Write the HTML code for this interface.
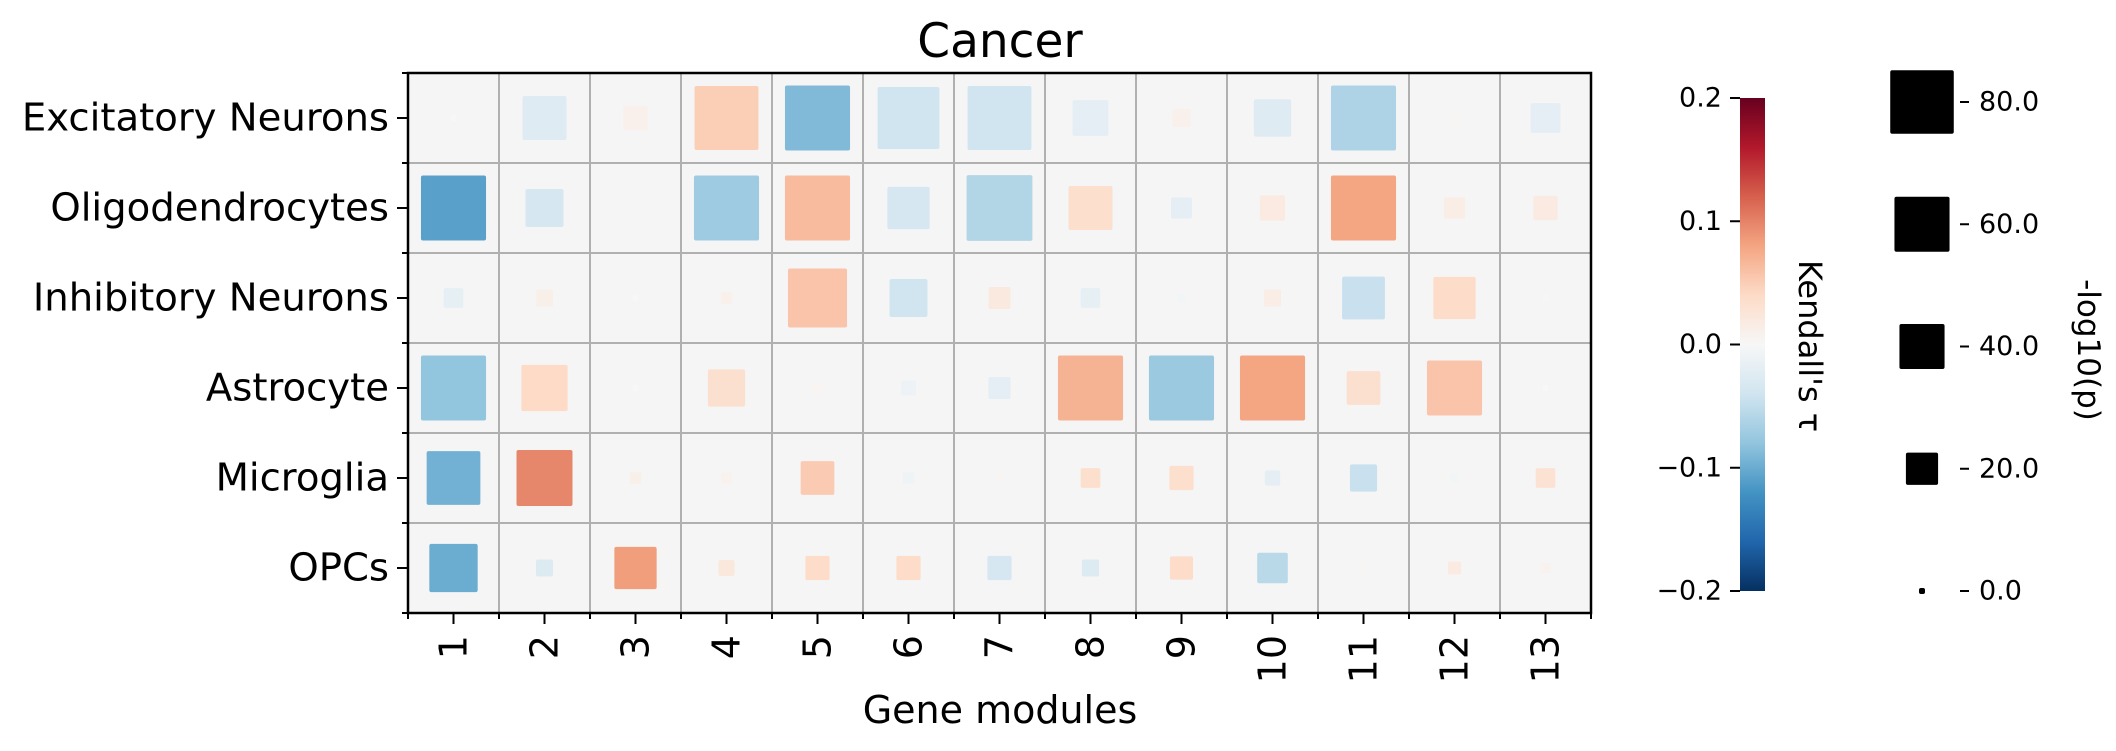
<!DOCTYPE html>
<html><head><meta charset="utf-8"><style>
html,body{margin:0;padding:0;background:#fff;}
svg{display:block;font-family:"DejaVu Sans","Liberation Sans",sans-serif;}
</style></head><body>
<svg id="chart" width="2116" height="751" viewBox="0 0 2116 751" xmlns="http://www.w3.org/2000/svg">
<defs>
<linearGradient id="cbar" x1="0" y1="1" x2="0" y2="0">
<stop offset="0" stop-color="#053061"/><stop offset="0.1" stop-color="#2166ac"/><stop offset="0.2" stop-color="#4393c3"/><stop offset="0.3" stop-color="#92c5de"/><stop offset="0.4" stop-color="#d1e5f0"/><stop offset="0.5" stop-color="#f7f7f7"/><stop offset="0.6" stop-color="#fddbc7"/><stop offset="0.7" stop-color="#f4a582"/><stop offset="0.8" stop-color="#d6604d"/><stop offset="0.9" stop-color="#b2182b"/><stop offset="1" stop-color="#67001f"/>
</linearGradient>
</defs>
<text x="1000" y="57" font-size="47" text-anchor="middle">Cancer</text>
<g id="plot"></g>
<text x="1000" y="723" font-size="38" text-anchor="middle">Gene modules</text>
<g id="cb"></g>
<g id="lg"></g>
</svg>
<script>
const rowLabels = ["Excitatory Neurons","Oligodendrocytes","Inhibitory Neurons","Astrocyte","Microglia","OPCs"];
const moduleLabels = ["1","2","3","4","5","6","7","8","9","10","11","12","13"];
const tauExcitatory = [0, -0.026, 0.01, 0.05, -0.089, -0.04, -0.04, -0.02, 0.01, -0.026, -0.062, 0.003, -0.02];
const logpExcitatory = [0, 38, 11, 81, 84, 76, 81, 25, 6, 27, 84, 3, 17];
const tauOligo = [-0.109, -0.035, -0.003, -0.072, 0.064, -0.035, -0.059, 0.035, -0.02, 0.018, 0.08, 0.015, 0.018];
const logpOligo = [84, 28, 0, 84, 84, 35, 86, 38, 8, 12, 84, 8, 11];
const tauInhibitory = [-0.018, 0.012, 0, 0.01, 0.057, -0.04, 0.02, -0.018, -0.005, 0.015, -0.045, 0.038, -0.002];
const logpInhibitory = [7, 5, 0, 2, 69, 28, 9, 7, 1, 5, 36, 35, 0.3];
const tauAstro = [-0.08, 0.04, 0, 0.033, 0.005, -0.012, -0.02, 0.07, -0.075, 0.08, 0.033, 0.057, 0];
const logpAstro = [84, 42, 0, 27, 2, 3.8, 9, 84, 84, 84, 22, 60, 0];
const tauMicroglia = [-0.096, 0.098, 0.012, 0.008, 0.052, -0.01, 0.005, 0.035, 0.035, -0.02, -0.045, -0.005, 0.03];
const logpMicroglia = [57, 62, 2, 1.7, 22, 2, 0.3, 7, 11, 4, 14, 1.3, 7];
const tauOPC = [-0.1, -0.028, 0.084, 0.022, 0.038, 0.038, -0.035, -0.028, 0.038, -0.055, 0.003, 0.018, 0.008];
const logpOPC = [46, 5, 35, 4.4, 11, 11, 11, 5, 10, 18, 0.6, 2.7, 1.3];
const colorbarTicks = [0.2, 0.1, 0.0, -0.1, -0.2];
const colorbarTickLabels = ["0.2","0.1","0.0","\u22120.1","\u22120.2"];
const legendValues = [80, 60, 40, 20, 0];
const legendLabels = ["80.0","60.0","40.0","20.0","0.0"];

const tauRows = [tauExcitatory, tauOligo, tauInhibitory, tauAstro, tauMicroglia, tauOPC];
const logpRows = [logpExcitatory, logpOligo, logpInhibitory, logpAstro, logpMicroglia, logpOPC];

const NS = "http://www.w3.org/2000/svg";
const L = 408, T = 73, CW = 91, RH = 90;
const R = L + CW * moduleLabels.length, B = T + RH * rowLabels.length;
const xCenter = j => L + CW * (j + 0.5);
const yCenter = i => T + RH * (i + 0.5);
const side = v => Math.sqrt(36 + 50 * v);
const stops = ["#053061","#2166ac","#4393c3","#92c5de","#d1e5f0","#f7f7f7","#fddbc7","#f4a582","#d6604d","#b2182b","#67001f"];
function hex(h){return [1,3,5].map(k=>parseInt(h.substr(k,2),16));}
function color(t){
  let u = Math.max(0, Math.min(1, (t + 0.2) / 0.4)) * 10;
  let k = Math.min(9, Math.floor(u)), f = u - k;
  const a = hex(stops[k]), b = hex(stops[k+1]);
  return "rgb(" + a.map((c,n)=>Math.round(c + (b[n]-c)*f)).join(",") + ")";
}
function mk(tag, attrs, parent){
  const e = document.createElementNS(NS, tag);
  for (const k in attrs) e.setAttribute(k, attrs[k]);
  parent.appendChild(e);
  return e;
}
const plot = document.getElementById("plot");
const bg = mk("rect", {x:L, y:T, width:R-L, height:B-T, fill:"#f5f5f5"}, plot);


for (let j = 1; j < moduleLabels.length; j++) {
  const g = mk("line", {x1:L+CW*j, x2:L+CW*j, y1:T, y2:B, stroke:"#b0b0b0", "stroke-width":2}, plot);
  
  
}
for (let i = 1; i < rowLabels.length; i++) {
  const g = mk("line", {x1:L, x2:R, y1:T+RH*i, y2:T+RH*i, stroke:"#b0b0b0", "stroke-width":2}, plot);
  
  
}
for (let i = 0; i < rowLabels.length; i++) {
  for (let j = 0; j < moduleLabels.length; j++) {
    const s = side(logpRows[i][j]);
    const r = mk("rect", {x:xCenter(j)-s/2, y:yCenter(i)-s/2, width:s, height:s, rx:2, fill:color(tauRows[i][j])}, plot);
    
    
  }
}
const sp = mk("rect", {x:L, y:T, width:R-L, height:B-T, fill:"none", stroke:"#000", "stroke-width":2.5}, plot);


for (let i = 0; i <= rowLabels.length; i++) {
  const tk = mk("line", {x1:L-6, x2:L, y1:T+RH*i, y2:T+RH*i, stroke:"#000", "stroke-width":2}, plot);
  
  
}
rowLabels.forEach((lab, i) => {
  const tk = mk("line", {x1:L-11, x2:L, y1:yCenter(i), y2:yCenter(i), stroke:"#000", "stroke-width":2}, plot);
  
  
  const t = mk("text", {x:L-19, y:yCenter(i), "font-size":38.6, "text-anchor":"end", "dominant-baseline":"central"}, plot);
  t.textContent = lab;
  
  
});
for (let j = 0; j <= moduleLabels.length; j++) {
  const tk = mk("line", {x1:L+CW*j, x2:L+CW*j, y1:B, y2:B+6, stroke:"#000", "stroke-width":2}, plot);
  
  
}
moduleLabels.forEach((lab, j) => {
  const tk = mk("line", {x1:xCenter(j), x2:xCenter(j), y1:B, y2:B+11, stroke:"#000", "stroke-width":2}, plot);
  
  
  const t = mk("text", {x:0, y:0, "font-size":38, "text-anchor":"end", "dominant-baseline":"central", transform:"translate(" + xCenter(j) + "," + (B+22) + ") rotate(-90)"}, plot);
  t.textContent = lab;
  
  
});
// colorbar
const cb = document.getElementById("cb");
const CBX = 1740, CBW = 25, CBT = 98, CBB = 591;
const cbY = v => CBB - (v + 0.2) / 0.4 * (CBB - CBT);
const cbr = mk("rect", {x:CBX, y:CBT, width:CBW, height:CBB-CBT, fill:"url(#cbar)"}, cb);


colorbarTicks.forEach((v, k) => {
  const tk = mk("line", {x1:CBX-10, x2:CBX, y1:cbY(v), y2:cbY(v), stroke:"#000", "stroke-width":2}, cb);
  
  
  const t = mk("text", {x:CBX-18, y:cbY(v), "font-size":27, "text-anchor":"end", "dominant-baseline":"central"}, cb);
  t.textContent = colorbarTickLabels[k];
  
  
});
const cbt = mk("text", {x:0, y:0, "font-size":32, "text-anchor":"middle", "dominant-baseline":"central", transform:"translate(1810,346) rotate(90)"}, cb);
cbt.textContent = "Kendall's \u03c4";


// size legend
const lg = document.getElementById("lg");
const lgY = v => 591 - v / 80 * (591 - 102);
legendValues.forEach((v, k) => {
  const s = side(v);
  const r = mk("rect", {x:1922-s/2, y:lgY(v)-s/2, width:s, height:s, rx:2, fill:"#000"}, lg);
  
  
  const tk = mk("line", {x1:1960, x2:1969, y1:lgY(v), y2:lgY(v), stroke:"#000", "stroke-width":2}, lg);
  
  
  const t = mk("text", {x:1979, y:lgY(v), "font-size":27, "dominant-baseline":"central"}, lg);
  t.textContent = legendLabels[k];
  
  
});
const lgt = mk("text", {x:0, y:0, "font-size":31, "text-anchor":"middle", "dominant-baseline":"central", transform:"translate(2088,350) rotate(90)"}, lg);
lgt.textContent = "-log10(p)";


</script>
</body></html>
